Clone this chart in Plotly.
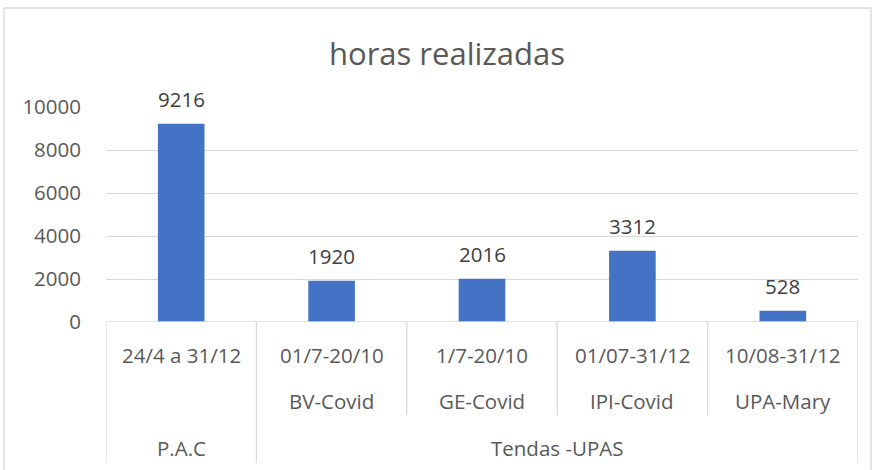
import plotly.graph_objects as go

# ---- data ----
periods = ["24/4 a 31/12", "01/7-20/10", "1/7-20/10", "01/07-31/12", "10/08-31/12"]
units = ["", "BV-Covid", "GE-Covid", "IPI-Covid", "UPA-Mary"]
groups = ["P.A.C", "Tendas -UPAS", "Tendas -UPAS", "Tendas -UPAS", "Tendas -UPAS"]
hours = [9216, 1920, 2016, 3312, 528]
y_ticks = [0, 2000, 4000, 6000, 8000, 10000]
y_tick_text = ["0", "2000", "4000", "6000", "8000", "10000"]
title_text = "horas realizadas"

FONT = "Open Sans, Liberation Sans, sans-serif"
TXT = "#595959"
LINE = "#d9d9d9"
FS = 20.5

# plot-area geometry in px (for converting decoration positions to paper coords)
W, H = 874, 470
ML, MR, MT, MB = 106, 16, 107, 148
PH = H - MT - MB


def py(pix):
    return (H - MB - pix) / PH


def px(pix):
    return (pix - ML) / (W - ML - MR)


xs = list(range(len(hours)))

fig = go.Figure()
fig.add_trace(go.Bar(x=xs, y=hours, width=0.31, marker_color="#4472c4",
                     marker_line_width=0, hoverinfo="skip"))

# data labels
for x, v in zip(xs, hours):
    fig.add_annotation(x=x, y=v, text=str(v), showarrow=False, yanchor="bottom",
                       xanchor="center", yshift=9,
                       font=dict(family=FONT, size=FS, color="#404040"))

# level 1 & 2 labels
for x, p, u in zip(xs, periods, units):
    fig.add_annotation(x=x, y=py(355), yref="paper", text=p, showarrow=False,
                       xanchor="center", yanchor="middle",
                       font=dict(family=FONT, size=FS, color=TXT))
    if u:
        fig.add_annotation(x=x, y=py(401), yref="paper", text=u, showarrow=False,
                           xanchor="center", yanchor="middle",
                           font=dict(family=FONT, size=FS, color=TXT))

# group labels and separators
spans = []
for i, g in enumerate(groups):
    if spans and spans[-1][0] == g:
        spans[-1][2] = i
    else:
        spans.append([g, i, i])
group_edges = set()
for g, a, b in spans:
    fig.add_annotation(x=(a + b) / 2, y=py(448), yref="paper", text=g, showarrow=False,
                       xanchor="center", yanchor="middle",
                       font=dict(family=FONT, size=FS, color=TXT))
    group_edges.add(a - 0.5)
    group_edges.add(b + 0.5)

for k in range(len(xs) + 1):
    e = k - 0.5
    y1 = py(463) if e in group_edges else py(415)
    fig.add_shape(type="line", x0=e, x1=e, xref="x", y0=0, y1=y1, yref="paper",
                  line=dict(color=LINE, width=1.3))

# axis baseline
fig.add_shape(type="line", x0=-0.5, x1=len(xs) - 0.5, xref="x", y0=0, y1=0, yref="y",
              line=dict(color=LINE, width=1.3))

# chart border
fig.add_shape(type="rect", x0=px(4), x1=px(871), y0=py(490), y1=py(8),
              xref="paper", yref="paper", line=dict(color=LINE, width=1.3),
              fillcolor="rgba(0,0,0,0)", layer="below")

fig.update_layout(
    width=W, height=H,
    margin=dict(l=ML, r=MR, t=MT, b=MB),
    paper_bgcolor="white", plot_bgcolor="white",
    showlegend=False,
    title=dict(text=title_text, x=447 / W, xref="container", xanchor="center",
               y=(H - 54) / H, yref="container", yanchor="middle",
               font=dict(family=FONT, size=31, color=TXT)),
    xaxis=dict(range=[-0.5, len(xs) - 0.5], showticklabels=False, showgrid=False,
               zeroline=False, showline=False, ticks=""),
    yaxis=dict(range=[0, 10000], tickvals=y_ticks, ticktext=y_tick_text,
               showgrid=True, gridcolor=LINE,
               gridwidth=1.3, zeroline=False, showline=False, ticks="",
               ticklabelstandoff=24,
               tickfont=dict(family=FONT, size=FS, color=TXT)),
)

fig.write_html("out.html", config={"displayModeBar": False},
               post_script="document.body.style.margin='0px';")
